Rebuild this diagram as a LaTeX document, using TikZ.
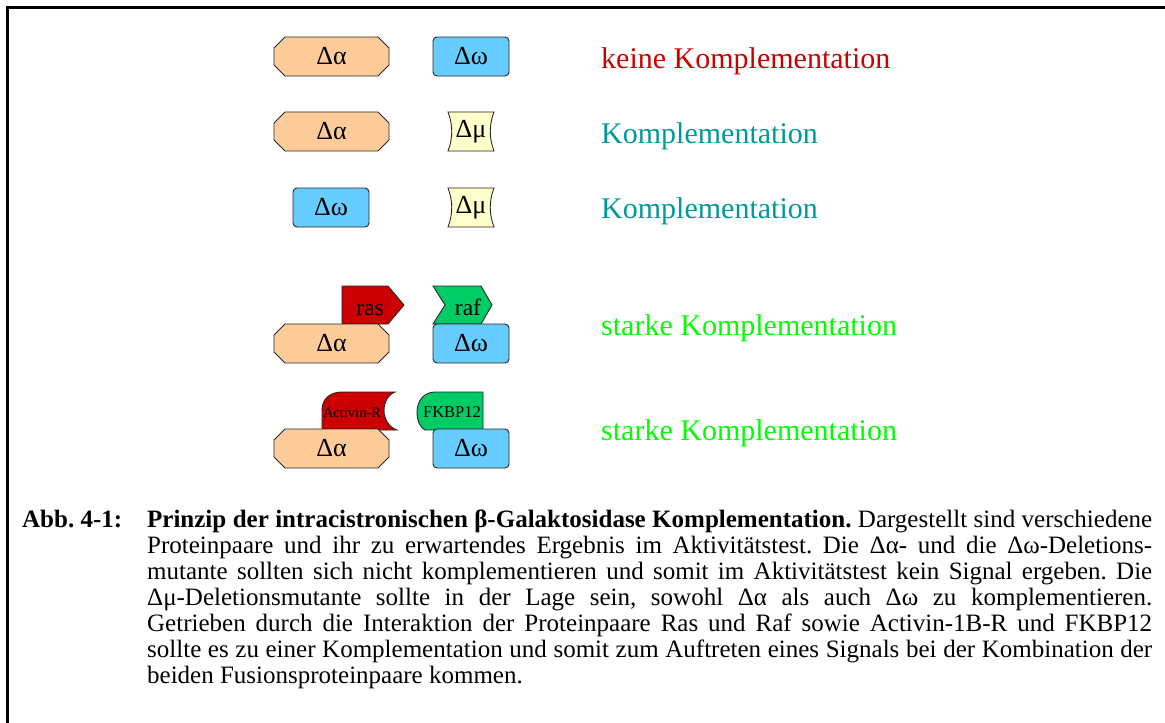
\documentclass[tikz,border=0pt]{standalone}
\usepackage{fontspec}
\setmainfont{Liberation Serif}
\definecolor{peach}{HTML}{FFCC99}
\definecolor{sky}{HTML}{66CCFF}
\definecolor{cream}{HTML}{FFFFCC}
\definecolor{protred}{HTML}{CC0000}
\definecolor{protgreen}{HTML}{00CC66}
\definecolor{labred}{HTML}{CC0000}
\definecolor{labteal}{HTML}{009999}
\definecolor{lablime}{HTML}{00FF00}
\tikzset{
  shp/.style={draw=black!85, line width=0.9pt, line join=miter},
  lbl/.style={inner sep=0pt, font=\fontsize{26}{30}\selectfont},
  tag/.style={inner sep=0pt, anchor=base, font=\fontsize{23.5}{27}\selectfont},
  rowlbl/.style={inner sep=0pt, anchor=base west, font=\fontsize{30}{34}\selectfont},
  caption/.style={inner sep=0pt, anchor=north west, text width=1130pt, align=justify,
    font=\fontsize{25}{26}\selectfont},
  dalpha/.pic={
    \draw[shp, fill=peach] (11,0) -- (104,0) -- (115,11) -- (115,28) -- (104,39)
      -- (11,39) -- (0,28) -- (0,11) -- cycle;
    \node[lbl] (-t) at (57.5,19.5) {Δα};
  },
  domega/.pic={
    \draw[shp, fill=sky, rounded corners=4pt] (0,0) rectangle (76,39);
    \node[lbl] (-t) at (38,19.5) {Δω};
  },
  dmu/.pic={
    \draw[shp, fill=cream] (0,0) -- (46,0) .. controls (41,13) and (41,26) .. (46,39)
      -- (0,39) .. controls (5,26) and (5,13) .. (0,0) -- cycle;
    \node[lbl] (-t) at (23,19.5) {Δμ};
  }
}
\begin{document}
\begin{tikzpicture}[x=1pt, y=-1pt]
  \useasboundingbox (0,0) rectangle (1165,723);
  % frame
  \draw[line width=3pt, line cap=rect] (7.5,730) -- (7.5,7.5) -- (1170,7.5);

  % row 1: no complementation
  \pic (a1) at (274,37) {dalpha};
  \pic (w1) at (433,37) {domega};
  \node[rowlbl, text=labred] (r1) at (601,68) {keine Komplementation};

  % row 2
  \pic (a2) at (274,112) {dalpha};
  \pic (m2) at (448,112) {dmu};
  \node[rowlbl, text=labteal] (r2) at (601,143) {Komplementation};

  % row 3
  \pic (w3) at (293,188) {domega};
  \pic (m3) at (448,188) {dmu};
  \node[rowlbl, text=labteal] (r3) at (601,218) {Komplementation};

  % row 4: ras / raf fusions
  \draw[shp, fill=protred] (342,286) -- (388,286) -- (404,305) -- (388,324) -- (342,324) -- cycle;
  \node[tag] (ras) at (370,315) {ras};
  \draw[shp, fill=protgreen] (433,286) -- (481,286) -- (492,305) -- (481,324) -- (433,324)
    -- (445,305) -- cycle;
  \node[tag] (raf) at (468,315) {raf};
  \pic (a4) at (274,324) {dalpha};
  \pic (w4) at (433,324) {domega};
  \node[rowlbl, text=lablime] (r4) at (601,335) {starke Komplementation};

  % row 5: Activin-R / FKBP12 fusions
  \draw[shp, fill=protred] (322,430) -- (322,410) .. controls (322,399) and (330,392) .. (342,392)
    -- (395,392) .. controls (380,398) and (380,424) .. (397,430) -- cycle;
  \node[inner sep=0pt, anchor=base, font=\fontsize{14.5}{17}\selectfont] (act) at (352,417) {Activin-R};
  \draw[shp, fill=protgreen] (483,392) -- (435,392) .. controls (424,392) and (417,401) .. (417,412)
    .. controls (417,422) and (421,428) .. (425,430) -- (483,430) -- cycle;
  \node[inner sep=0pt, anchor=base, font=\fontsize{16.5}{19}\selectfont] (fkbp) at (452,417) {FKBP12};
  \pic (a5) at (274,429) {dalpha};
  \pic (w5) at (433,429) {domega};
  \node[rowlbl, text=lablime] (r5) at (601,440) {starke Komplementation};

  % figure caption
  \node[caption] (cap) at (22,510) {\frenchspacing\hyphenpenalty=10000\hangindent=125pt\hangafter=1\noindent
    \makebox[125pt][l]{\bfseries Abb. 4-1:}\textbf{Prinzip der intracistronischen β-Galaktosidase
    Komplementation.} Dargestellt sind verschiedene\linebreak
    Proteinpaare und ihr zu erwartendes Ergebnis im Aktivitätstest. Die Δα- und die Δω-Deletions-\linebreak
    mutante sollten sich nicht komplementieren und somit im Aktivitätstest kein Signal ergeben. Die\linebreak
    Δμ-Deletionsmutante sollte in der Lage sein, sowohl Δα als auch Δω zu komplementieren.\linebreak
    Getrieben durch die Interaktion der Proteinpaare Ras und Raf sowie Activin-1B-R und FKBP12\linebreak
    sollte es zu einer Komplementation und somit zum Auftreten eines Signals bei der Kombination der\linebreak
    beiden Fusionsproteinpaare kommen.\par};
\end{tikzpicture}
\end{document}
